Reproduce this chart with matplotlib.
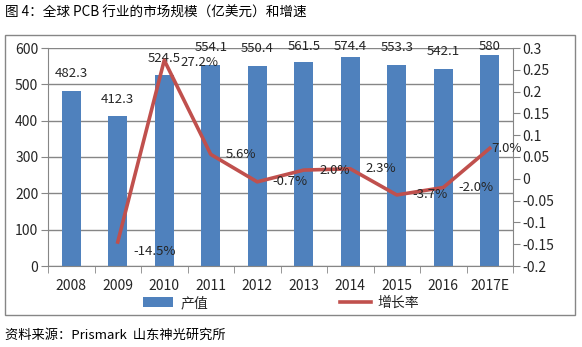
import matplotlib
matplotlib.use('Agg')
import matplotlib.pyplot as plt
from matplotlib.patches import Rectangle
import numpy as np

plt.rcParams['font.family'] = ['Noto Sans CJK SC', 'DejaVu Sans']

years = ['2008', '2009', '2010', '2011', '2012', '2013', '2014', '2015', '2016', '2017E']
output = [482.3, 412.3, 524.5, 554.1, 550.4, 561.5, 574.4, 553.3, 542.1, 580]
growth = [None, -0.145, 0.272, 0.056, -0.007, 0.020, 0.023, -0.037, -0.020, 0.070]
growth_labels = ['', '-14.5%', '27.2%', '5.6%', '-0.7%', '2.0%', '2.3%', '-3.7%', '-2.0%', '7.0%']
bar_labels = ['482.3', '412.3', '524.5', '554.1', '550.4', '561.5', '574.4', '553.3', '542.1', '580']

bar_color = '#4F81BD'
line_color = '#C0504D'
grid_color = '#868686'
text_color = '#262626'

W, H = 582, 347
fig = plt.figure(figsize=(W / 100, H / 100), dpi=100)

# plot area in pixels: left 48, right 513, top 48, bottom 266
ax = fig.add_axes([48 / W, 1 - 266 / H, (513 - 48) / W, (266 - 48) / H])
ax2 = ax.twinx()

x = np.arange(len(years))
ax.bar(x, output, width=0.4, color=bar_color, zorder=2, label='产值')
ax.set_xlim(-0.5, len(years) - 0.5)
ax.set_ylim(0, 600)
ax.set_yticks(range(0, 601, 100))
ax.grid(axis='y', color=grid_color, linewidth=1, zorder=0)
ax.set_axisbelow(True)
ax.set_xticks(x)
ax.set_xticklabels(years)
ax.set_xticks(np.arange(-0.5, len(years), 1), minor=True)
ax.tick_params(axis='x', which='major', length=0, pad=9, labelsize=10, labelcolor=text_color)
ax.tick_params(axis='x', which='minor', length=5, color=grid_color, direction='out')
ax.tick_params(axis='y', length=5, color=grid_color, labelsize=10, pad=2, labelcolor=text_color)
for side in ['top', 'right']:
    ax.spines[side].set_visible(False)
for side in ['left', 'bottom']:
    ax.spines[side].set_color(grid_color)

# labels sit above the bar but are kept inside the plot area, as Excel does
for xi, v, lab in zip(x, output, bar_labels):
    ax.text(xi, min(v + 47, 603), lab, ha='center', va='center',
            fontsize=9.5, color=text_color, clip_on=False)

gx = [xi for xi, g in zip(x, growth) if g is not None]
gy = [g for g in growth if g is not None]
ax2.plot(gx, gy, color=line_color, linewidth=2.6, label='增长率', zorder=3)
ax2.set_ylim(-0.2, 0.3)
ticks2 = [-0.2, -0.15, -0.1, -0.05, 0, 0.05, 0.1, 0.15, 0.2, 0.25, 0.3]
ax2.set_yticks(ticks2)
ax2.set_yticklabels(['-0.2', '-0.15', '-0.1', '-0.05', '0', '0.05', '0.1', '0.15', '0.2', '0.25', '0.3'])
ax2.tick_params(axis='y', length=5, color=grid_color, labelsize=10, pad=2, labelcolor=text_color)
for side in ['top', 'left', 'bottom']:
    ax2.spines[side].set_visible(False)
ax2.spines['right'].set_color(grid_color)

for xi, g, lab in zip(x, growth, growth_labels):
    if g is None:
        continue
    dx, dy = 11, 0
    if lab == '-14.5%':
        dy = -7
    elif lab == '27.2%':
        dx, dy = 12, -1.5
    elif lab == '7.0%':
        dx = 1
    ax2.annotate(lab, (xi, g), xytext=(dx, dy), textcoords='offset points',
                 ha='left', va='center', fontsize=9.5, color=text_color)

h1, l1 = ax.get_legend_handles_labels()
h2, l2 = ax2.get_legend_handles_labels()
fig.legend(h1 + h2, l1 + l2, loc='center', bbox_to_anchor=(281 / W, 1 - 303 / H),
           ncol=2, frameon=False, fontsize=10, handlelength=2.2, columnspacing=9.5,
           handletextpad=0.5, labelcolor=text_color)

# chart border
fig.patches.append(Rectangle((5 / W, 1 - 315 / H), 570 / W, 280 / H, transform=fig.transFigure,
                             fill=False, edgecolor=grid_color, linewidth=1))

fig.text(5 / W, 1 - 13 / H, '图 4：全球 PCB 行业的市场规模（亿美元）和增速', fontsize=9.8,
         ha='left', va='center', color='#000000')
fig.text(5 / W, 1 - 335 / H, '资料来源：Prismark  山东神光研究所', fontsize=9.5,
         ha='left', va='center', color='#000000')

fig.savefig('out.png', dpi=100)
